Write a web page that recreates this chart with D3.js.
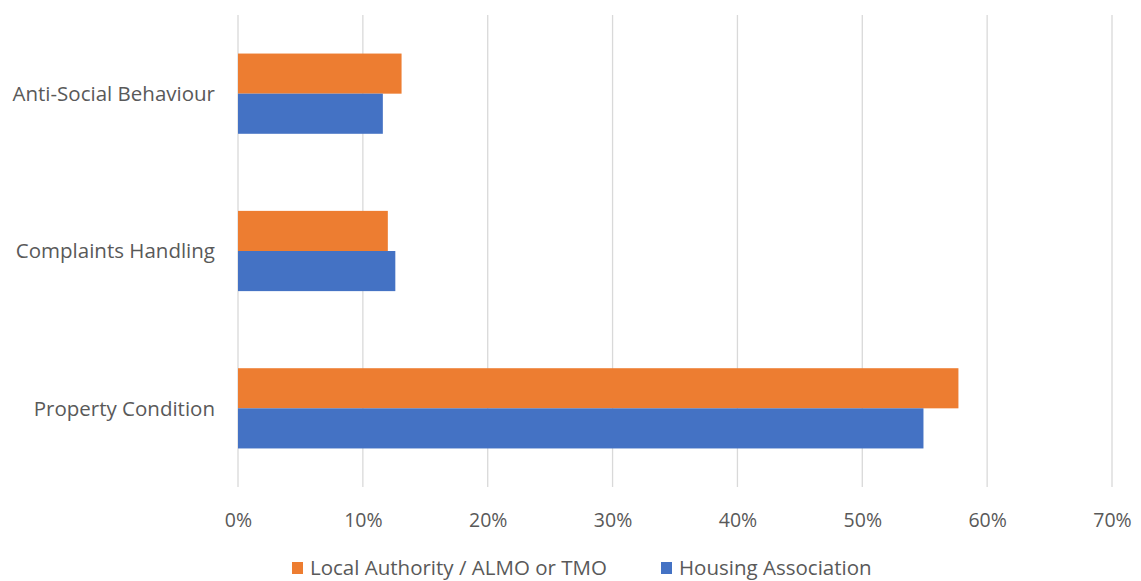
<!DOCTYPE html>
<html><head><meta charset="utf-8">
<script src="https://cdn.jsdelivr.net/npm/d3@7"></script>
<style>body{margin:0;background:#fff;} text{font-family:"Open Sans",sans-serif;fill:#595959;}</style>
</head><body>
<svg id="c" width="1141" height="581"></svg>
<script>
const categories = ["Anti-Social Behaviour", "Complaints Handling", "Property Condition"];
const seriesNames = ["Local Authority / ALMO or TMO", "Housing Association"];
const localAuthority = [0.131, 0.120, 0.577];
const housingAssociation = [0.116, 0.126, 0.549];
const tickValues = [0, 0.1, 0.2, 0.3, 0.4, 0.5, 0.6, 0.7];
const colors = ["#ED7D31", "#4472C4"];

const svg = d3.select("#c");
const x = d3.scaleLinear().domain([0, 0.7]).range([238, 1112]);
const y = d3.scaleBand().domain(categories).range([15, 487]).paddingInner(0.49).paddingOuter(0.245);
const sub = d3.scaleBand().domain(seriesNames).range([0, y.bandwidth()]);

svg.append("g").selectAll("line").data(tickValues).join("line")
  .attr("x1", d => x(d)).attr("x2", d => x(d)).attr("y1", 15).attr("y2", 487)
  .attr("stroke", "#d9d9d9").attr("stroke-width", 1.3);

const series = [localAuthority, housingAssociation];
series.forEach((vals, si) => {
  svg.append("g").selectAll("rect").data(categories).join("rect")
    .attr("x", x(0)).attr("y", c => y(c) + sub(seriesNames[si]))
    .attr("width", (c, i) => x(vals[i]) - x(0)).attr("height", sub.bandwidth())
    .attr("fill", colors[si]);
});

const xAxis = d3.axisBottom(x).tickValues(tickValues).tickFormat(d3.format(".0%")).tickSize(0).tickPadding(0);
const gx = svg.append("g").attr("transform", "translate(0,527)").call(xAxis);
gx.select(".domain").remove();
gx.selectAll("text").attr("font-size", 19.5).attr("dy", 0).style("fill", "#595959").attr("font-family", "Open Sans");

const yAxis = d3.axisLeft(y).tickSize(0).tickPadding(0);
const gy = svg.append("g").attr("transform", "translate(215,0)").call(yAxis);
gy.select(".domain").remove();
gy.selectAll("text").attr("font-size", 20.5).attr("dy", "0.35em").style("fill", "#595959").attr("font-family", "Open Sans");

const legend = [{name: seriesNames[0], x: 292}, {name: seriesNames[1], x: 661}];
legend.forEach((l, i) => {
  svg.append("rect").attr("x", l.x).attr("y", 562).attr("width", 11).attr("height", 12).attr("fill", colors[i]);
  svg.append("text").attr("x", l.x + 18).attr("y", 575).attr("font-size", 20.5).text(l.name);
});
</script>
</body></html>
